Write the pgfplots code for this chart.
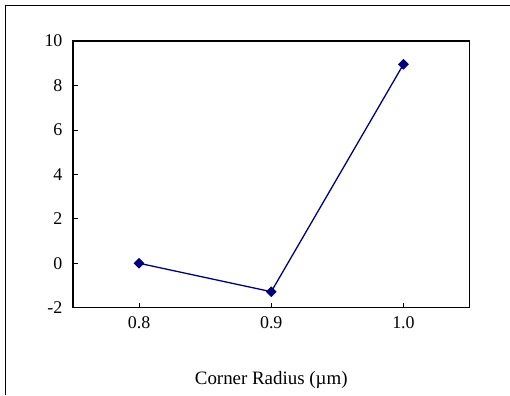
\documentclass[border=0pt]{standalone}
\usepackage{pgfplots}
\pgfplotsset{compat=1.18}
\usepackage{fontspec}
\setmainfont{Liberation Serif}
\definecolor{navy}{RGB}{0,0,128}
\begin{document}
\begin{tikzpicture}[x=1bp,y=1bp]
\path (0,0) rectangle (510,395);
\draw[line width=1bp] (6,0) -- (6,389) -- (510,389);
\begin{axis}[
  at={(73bp,87bp)}, anchor=south west,
  scale only axis, width=397bp, height=267bp,
  xmin=0.75, xmax=1.05, ymin=-2, ymax=10,
  xtick={0.8,0.9,1.0}, xticklabels={0.8,0.9,1.0},
  ytick={-2,0,2,4,6,8,10},
  tick align=inside, tick style={black, line width=0.6bp}, major tick length=5bp,
  xtick pos=bottom, ytick pos=left,
  axis line style={line width=1.2bp},
  ticklabel style={font=\fontsize{18}{20}\selectfont},
  /pgf/number format/assume math mode=true,
  yticklabel style={anchor=east, xshift=-7bp},
  xticklabel style={yshift=-5bp},
  xlabel={Corner Radius (µm)},
  xlabel style={font=\fontsize{19}{21}\selectfont, yshift=-36bp},
]
\addplot[navy, line width=1.3bp, mark=square*, mark size=3.2bp, mark options={fill=navy, rotate=45}]
  coordinates {(0.8,0) (0.9,-1.28) (1.0,8.95)};
\end{axis}
\end{tikzpicture}
\end{document}
